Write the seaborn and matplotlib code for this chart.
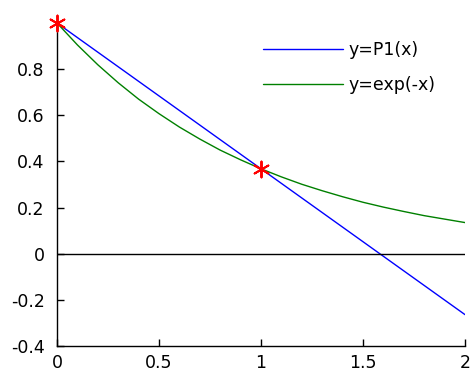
import matplotlib
matplotlib.use("Agg")
import matplotlib.pyplot as plt
import seaborn as sns
import pandas as pd

sns.set_style("white")
plt.rcParams['font.family'] = ['DejaVu Sans']
plt.rcParams['text.color'] = 'black'
plt.rcParams['xtick.color'] = 'black'
plt.rcParams['ytick.color'] = 'black'

# data
p1_x = [0.0, 1.0, 2.0]
p1_y = [1.0, 0.368, -0.264]
exp_x = [0.0, 0.1, 0.2, 0.3, 0.4, 0.5, 0.6, 0.7, 0.8, 0.9, 1.0,
         1.1, 1.2, 1.3, 1.4, 1.5, 1.6, 1.7, 1.8, 1.9, 2.0]
exp_y = [1.0, 0.905, 0.819, 0.741, 0.670, 0.607, 0.549, 0.497, 0.449, 0.407, 0.368,
         0.333, 0.301, 0.273, 0.247, 0.223, 0.202, 0.183, 0.165, 0.150, 0.135]
node_x = [0.0, 1.0]
node_y = [1.0, 0.368]
x_ticks = [0, 0.5, 1, 1.5, 2]
x_labels = ["0", "0.5", "1", "1.5", "2"]
y_ticks = [-0.4, -0.2, 0, 0.2, 0.4, 0.6, 0.8]
y_labels = ["-0.4", "-0.2", "0", "0.2", "0.4", "0.6", "0.8"]

W, H = 472, 376
fig = plt.figure(figsize=(W / 100, H / 100), dpi=100)
ax = fig.add_axes([57 / W, 1 - 346 / H, 408 / W, (346 - 23) / H])

sns.lineplot(x=p1_x, y=p1_y, ax=ax, color="#0000ff", lw=1.0, label="y=P1(x)")
sns.lineplot(x=exp_x, y=exp_y, ax=ax, color="#008000", lw=1.0, label="y=exp(-x)")
ax.axhline(0, color="black", lw=1.0)
sns.scatterplot(x=node_x, y=node_y, ax=ax, marker=(6, 2, 0), s=130,
                color="red", edgecolor="red", linewidth=1.4, zorder=5, clip_on=False)

ax.set_xlim(0, 2)
ax.set_ylim(-0.4, 1.0)
ax.set_xticks(x_ticks)
ax.set_xticklabels(x_labels)
ax.set_yticks(y_ticks)
ax.set_yticklabels(y_labels)
ax.tick_params(direction="in", length=5, width=1, labelsize=12.5, colors="black",
               bottom=True, left=True)
ax.tick_params(axis="y", pad=9)
ax.tick_params(axis="x", pad=6)
for s in ["top", "right"]:
    ax.spines[s].set_visible(False)
for s in ["left", "bottom"]:
    ax.spines[s].set_color("black")
    ax.spines[s].set_linewidth(1.0)
ax.set_facecolor("white")

leg = ax.legend(loc="upper left", bbox_to_anchor=(263 / W, 1 - 41 / H),
                bbox_transform=fig.transFigure, frameon=False, borderpad=0,
                borderaxespad=0, fontsize=12.5, handlelength=4.6,
                handletextpad=0.35, labelspacing=1.0)
fig.savefig("out.png", dpi=100, facecolor="white")
